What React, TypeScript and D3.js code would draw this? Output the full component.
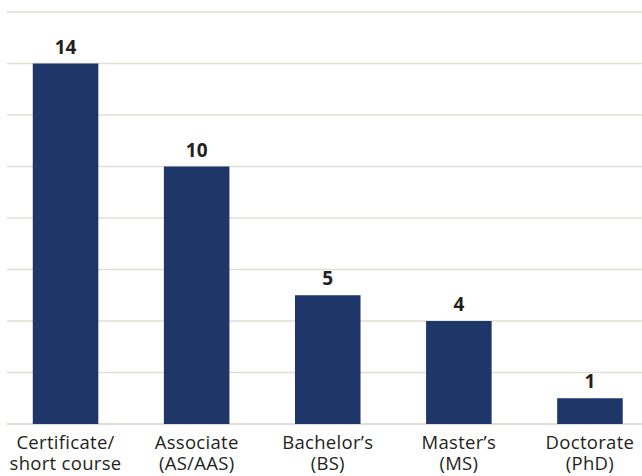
import React from "react";
import * as d3 from "d3";

const categories = ["Certificate/\nshort course", "Associate\n(AS/AAS)", "Bachelor’s\n(BS)", "Master’s\n(MS)", "Doctorate\n(PhD)"];
const values = [14, 10, 5, 4, 1];
const gridTicks = [0, 2, 4, 6, 8, 10, 12, 14, 16];

export default function App() {
  const W = 642, H = 476;
  const y = d3.scaleLinear().domain([0, 16]).range([424, 12]);
  const x = d3.scaleBand<string>().domain(categories).range([0, 655.5]).paddingInner(0.5).paddingOuter(0.25);
  const font = "'Open Sans', 'Noto Sans', sans-serif";
  return (
    <svg width={W} height={H} style={{ position: "absolute", left: 0, top: 0 }}>
      <rect width={W} height={H} fill="#fff" />
      {gridTicks.map((t) => (
        <line key={t} x1={7} x2={W} y1={y(t)} y2={y(t)} stroke="#e0dfd4" strokeWidth={t === 0 ? 2 : 1.5} />
      ))}
      {values.map((v, i) => {
        const c = categories[i];
        return (
          <g key={c}>
            <rect x={x(c)} y={y(v)} width={x.bandwidth()} height={y(0) - y(v)} fill="#1f3668" />
            <text x={x(c)! + x.bandwidth() / 2} y={y(v) - 10} textAnchor="middle" fontFamily={font} fontWeight="bold" fontSize={19} fill="#231f20">{v}</text>
            <text x={x(c)! + x.bandwidth() / 2} y={449} textAnchor="middle" fontFamily={font} fontSize={18.5} letterSpacing={0.3} fill="#231f20">
              {c.split("\n").map((line, j) => (
                <tspan key={j} x={x(c)! + x.bandwidth() / 2} dy={j === 0 ? 0 : 21}>{line}</tspan>
              ))}
            </text>
          </g>
        );
      })}
    </svg>
  );
}
